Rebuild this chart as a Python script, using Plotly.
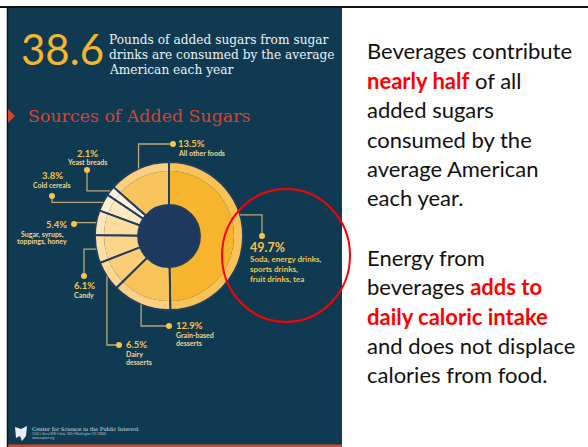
import math
import plotly.graph_objects as go

W, H = 588, 447

# ---- data -------------------------------------------------------------
categories = [
    "Soda, energy drinks, sports drinks, fruit drinks, tea",
    "Grain-based desserts",
    "Dairy desserts",
    "Candy",
    "Sugar, syrups, toppings, honey",
    "Cold cereals",
    "Yeast breads",
    "All other foods",
]
shares = [49.7, 12.9, 6.5, 6.1, 5.4, 3.8, 2.1, 13.5]
name_lines = [
    ["Soda, energy drinks,", "sports drinks,", "fruit drinks, tea"],
    ["Grain-based", "desserts"],
    ["Dairy", "desserts"],
    ["Candy"],
    ["Sugar, syrups,", "toppings, honey"],
    ["Cold cereals"],
    ["Yeast breads"],
    ["All other foods"],
]
headline_value = "38.6"
headline_text = ["Pounds of added sugars from sugar",
                 "drinks are consumed by the average",
                 "American each year"]

# ---- styling ----------------------------------------------------------
NAVY = "#0F3A51"
HOLE = "#1D3A5E"
RED = "#D6452F"
GOLD = "#F5B52E"
LEAD = "#B9A77E"
DOT = "#F7C34C"
LABEL_NAME = "#F2D592"

inner_colors = ["#F6B52C", "#F9C35C", "#FBCD77", "#FCD58B", "#FDDCA0",
                "#FEE8C0", "#FFF1DA", "#F9C45E"]
outer_colors = ["#F8C256", "#FBD084", "#FCD894", "#FDDFA6", "#FEE5B8",
                "#FFEFD2", "#FFF6E6", "#FBCF7E"]

CX, CY = 169, 236          # donut centre (px)
R_OUT, R_IN, R_HOLE = 74, 65, 31


def px(x):
    return x / W


def py(y):
    return 1 - y / H


def dom(r):
    return dict(x=[px(CX - r), px(CX + r)], y=[py(CY + r), py(CY - r)])


def text(x, y, s, size, color, family="Lato", xanchor="left"):
    return dict(x=px(x), y=py(y), xref="paper", yref="paper",
                xanchor=xanchor, yanchor="middle", showarrow=False,
                borderpad=0, text=s,
                font=dict(family=family, size=size, color=color))


fig = go.Figure()

pie_common = dict(values=shares, labels=categories, sort=False,
                  direction="clockwise", rotation=0, textinfo="none",
                  hoverinfo="label+percent", showlegend=False)

# outer light ring
fig.add_trace(go.Pie(domain=dom(R_OUT), hole=R_IN / R_OUT,
                     marker=dict(colors=outer_colors, line=dict(width=0)),
                     **pie_common))
# inner saturated ring
fig.add_trace(go.Pie(domain=dom(R_IN), hole=R_HOLE / R_IN,
                     marker=dict(colors=inner_colors, line=dict(width=0)),
                     **pie_common))
# slice separators across both rings
fig.add_trace(go.Pie(domain=dom(R_OUT), hole=R_HOLE / R_OUT,
                     marker=dict(colors=["rgba(0,0,0,0)"] * len(shares),
                                 line=dict(color="#203E60", width=1.8)),
                     **pie_common))

shapes = []
annotations = []

# slide frame and infographic panel
shapes.append(dict(type="rect", xref="paper", yref="paper", layer="below",
                   x0=px(8), x1=px(342), y0=py(447), y1=py(8),
                   fillcolor=NAVY, line=dict(width=0)))
shapes.append(dict(type="rect", xref="paper", yref="paper", layer="below",
                   x0=px(8), x1=px(342), y0=py(447), y1=py(444.5),
                   fillcolor=RED, line=dict(width=0)))
shapes.append(dict(type="line", xref="paper", yref="paper",
                   x0=px(0), x1=px(588), y0=py(7), y1=py(7),
                   line=dict(color="#111111", width=2.2)))
shapes.append(dict(type="line", xref="paper", yref="paper",
                   x0=px(7.5), x1=px(7.5), y0=py(7), y1=py(447),
                   line=dict(color="#111111", width=1.5)))
# donut hole
shapes.append(dict(type="circle", xref="paper", yref="paper", layer="below",
                   x0=px(CX - R_HOLE), x1=px(CX + R_HOLE),
                   y0=py(CY + R_HOLE), y1=py(CY - R_HOLE),
                   fillcolor=HOLE, line=dict(width=0)))

# headline
annotations.append(text(20, 49, headline_value, 42, GOLD))
for line, y in zip(headline_text, [40, 55, 70]):
    annotations.append(text(108, y, line, 12.2, "#EEF2F4", "DejaVu Serif"))

# section title with marker
shapes.append(dict(type="path", xref="paper", yref="paper",
                   path=f"M {px(8)},{py(109)} L {px(15)},{py(116)} L {px(8)},{py(123)} Z",
                   fillcolor=RED, line=dict(width=0)))
annotations.append(text(27, 116, "Sources of Added Sugars", 17.4, RED,
                        "DejaVu Serif"))

# leader lines: start on the donut edge at each slice's mid-angle
leader_dot = [(262, 236), (169, 326), (119, 345), (84, 276),
              (74, 224), (52, 196), (87, 170), (173, 144)]
leader_route = ["h", "v", "v", "h", "h", "h", "h", "v"]
angle_shift = [-16, 0, 0, 0, 0, 0, 0, 0]

total = sum(shares)
cum = 0.0
for i, v in enumerate(shares):
    mid = (cum + v / 2) / total * 360 + angle_shift[i]
    cum += v
    a = math.radians(mid)
    sx = CX + R_OUT * math.sin(a)
    sy = CY - R_OUT * math.cos(a)
    dx, dy = leader_dot[i]
    if leader_route[i] == "h":
        pts = [(sx, sy), (dx, sy), (dx, dy)]
    else:
        pts = [(sx, sy), (sx, dy), (dx, dy)]
    path = "M " + " L ".join(f"{px(x)},{py(y)}" for x, y in pts)
    shapes.append(dict(type="path", xref="paper", yref="paper", path=path,
                       line=dict(color=LEAD, width=1.3)))
    shapes.append(dict(type="circle", xref="paper", yref="paper",
                       x0=px(dx - 3), x1=px(dx + 3), y0=py(dy + 3), y1=py(dy - 3),
                       fillcolor=DOT, line=dict(width=0)))

# value labels: (x, y of value, anchor, value size, name line ys, name x, name anchor)
label_layout = [
    (249, 247, "left", 12.5, [259, 269, 279], 249, "left"),
    (175, 325.5, "left", 9.5, [335, 342.5], 175, "left"),
    (125, 344.5, "left", 9.5, [354, 361.5], 125, "left"),
    (84, 285.5, "center", 9.5, [295], 84, "center"),
    (68, 224, "right", 9.5, [234, 241.5], 42, "center"),
    (52, 175, "center", 9.5, [184.5], 52, "center"),
    (87, 153, "center", 9.5, [162.5], 87, "center"),
    (177, 143.5, "left", 9.5, [153], 177, "left"),
]
for i, v in enumerate(shares):
    vx, vy, va, vs, nys, nx, na = label_layout[i]
    annotations.append(text(vx, vy, f"<b>{v}%</b>", vs, DOT, xanchor=va))
    nsize = 8.0 if i == 0 else 7.0
    for line, ny in zip(name_lines[i], nys):
        annotations.append(text(nx, ny, f"<b>{line}</b>", nsize,
                                DOT if i == 0 else LABEL_NAME, xanchor=na))

# highlight ellipse around the beverages label
shapes.append(dict(type="circle", xref="paper", yref="paper",
                   x0=px(222), x1=px(350), y0=py(322), y1=py(189),
                   line=dict(color="#FF0000", width=2)))

# footer
shapes.append(dict(type="path", xref="paper", yref="paper",
                   path=(f"M {px(15)},{py(427)} L {px(21)},{py(429)} L {px(27)},{py(426)} "
                         f"L {px(26)},{py(436)} L {px(22)},{py(441)} L {px(20)},{py(436)} "
                         f"L {px(16)},{py(438)} Z"),
                   fillcolor="#E8EEF2", line=dict(width=0)))
annotations.append(text(31, 428.5, "Center for Science in the Public Interest",
                        5.2, "#DDE4EA", "DejaVu Serif"))
annotations.append(text(31, 434, "1220 L Street NW • Suite 300 • Washington, DC 20005",
                        3, "#B8C4CE"))
annotations.append(text(31, 438, "www.cspinet.org", 3, "#B8C4CE"))

# slide text on the right
HL = "<span style='color:#FF0000'><b>{}</b></span>"
slide_lines = [
    ("Beverages contribute", 51),
    (HL.format("nearly half") + " of all", 80),
    ("added sugars", 110),
    ("consumed by the", 139),
    ("average American", 168),
    ("each year.", 197),
    ("Energy from", 257),
    ("beverages " + HL.format("adds to"), 286),
    (HL.format("daily caloric intake"), 316),
    ("and does not displace", 345),
    ("calories from food.", 374),
]
for txt, y in slide_lines:
    annotations.append(text(366, y, txt, 22, "#111111"))

fig.update_layout(width=W, height=H, margin=dict(l=0, r=0, t=0, b=0),
                  paper_bgcolor="white", plot_bgcolor="white",
                  shapes=shapes, annotations=annotations)

fig.write_html("out.html")
